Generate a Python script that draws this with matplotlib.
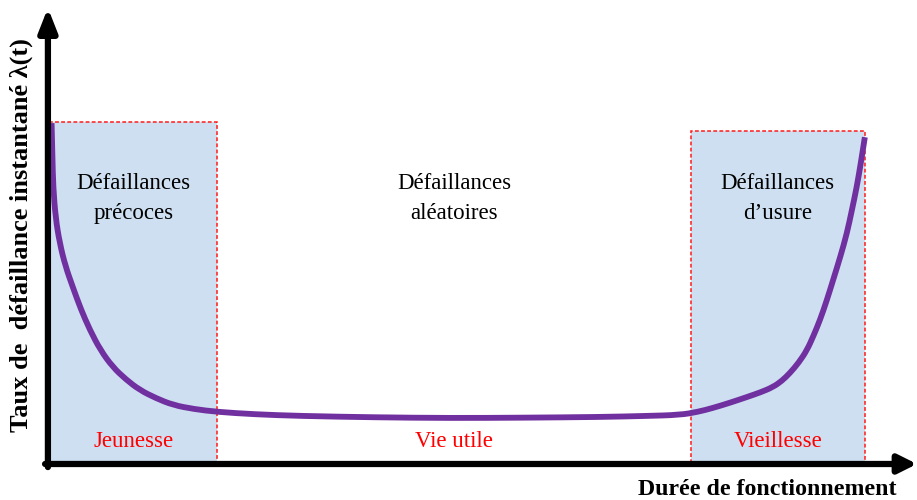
import matplotlib
matplotlib.use("Agg")
import matplotlib.pyplot as plt
from matplotlib.patches import Rectangle, PathPatch
from matplotlib.path import Path

# Bathtub curve (t: 0..100 = end of wear-out zone, rate: 0..100)
t_values = [0.2, 0.3, 0.4, 0.7, 1.2, 1.9, 2.8, 3.8, 4.9, 6.2, 7.7, 9.3, 11.0, 13.0,
            15.1, 17.7, 20.5, 25.0, 30.7, 40.0, 49.1, 58.0, 67.5, 73.0, 77.3, 79.5,
            81.3, 83.5, 85.5, 87.2, 88.7, 89.8, 90.8, 91.9, 92.9, 93.7, 94.5, 95.3,
            96.1, 97.0, 97.8, 98.4, 99.0, 99.5, 100.0]
rate_values = [99.7, 90.0, 81.0, 72.0, 64.7, 58.0, 51.9, 45.4, 39.4, 33.5, 28.6, 25.0, 21.9, 19.5,
               17.5, 16.3, 15.5, 14.8, 14.3, 13.9, 13.7, 13.8, 14.0, 14.3, 14.6, 15.5,
               16.6, 18.2, 19.8, 21.2, 22.7, 24.5, 26.8, 29.9, 33.5, 37.7, 42.3, 47.8,
               53.9, 60.8, 67.6, 74.2, 81.0, 88.0, 95.6]

# Zones: start, end, shaded height (None = not shaded), titles and phase labels
zone_starts = [0.0, 20.5, 78.65]
zone_ends = [20.5, 78.65, 100.0]
zone_tops = [100.0, None, 97.4]
zone_titles = ["Défaillances\nprécoces", "Défaillances\naléatoires", "Défaillances\nd\u2019usure"]
zone_phases = ["Jeunesse", "Vie utile", "Vieillesse"]

ylabel = "Taux de  défaillance instantané λ(t)"
xlabel = "Durée de fonctionnement"

serif = ["Liberation Serif", "DejaVu Serif"]


def smooth_path(xs, ys):
    # quadratic curves through the midpoints, the points act as control points
    verts = [(xs[0], ys[0])]
    codes = [Path.MOVETO]
    for i in range(1, len(xs) - 1):
        verts.append((xs[i], ys[i]))
        verts.append(((xs[i] + xs[i + 1]) / 2, (ys[i] + ys[i + 1]) / 2))
        codes += [Path.CURVE3, Path.CURVE3]
    verts.append((xs[-1], ys[-1]))
    codes.append(Path.LINETO)
    return Path(verts, codes)


fig = plt.figure(figsize=(9.17, 5.0), dpi=100)
ax = fig.add_axes([0, 0, 1, 1])
ax.set_xlim(-6.13, 106.4)
ax.set_ylim(-10.2, 135.6)
ax.axis("off")

# shaded zones
for x0, x1, top in zip(zone_starts, zone_ends, zone_tops):
    if top is None:
        continue
    ax.add_patch(Rectangle((x0, 0.5), x1 - x0, top - 0.5, facecolor="#cddff0",
                           edgecolor="#ff1a1a", linestyle=(0, (2.5, 1.5)),
                           linewidth=1.1, zorder=1))

# curve
ax.add_patch(PathPatch(smooth_path(t_values, rate_values), facecolor="none",
                       edgecolor="#7030a0", linewidth=4.2, capstyle="butt", zorder=3))

# axes arrows
ax.annotate("", xy=(106.4, 0.3), xytext=(-0.6, 0.3),
            arrowprops=dict(arrowstyle="-|>,head_length=1.1,head_width=0.55",
                            color="black", lw=4.5, shrinkA=0, shrinkB=0), zorder=4)
ax.annotate("", xy=(-0.25, 133.3), xytext=(-0.25, -0.6),
            arrowprops=dict(arrowstyle="-|>,head_length=1.4,head_width=0.55",
                            color="black", lw=4.5, shrinkA=0, shrinkB=0), zorder=4)

# zone texts
for x0, x1, title, phase in zip(zone_starts, zone_ends, zone_titles, zone_phases):
    xc = (x0 + x1) / 2
    ax.text(xc, 77.8, title, ha="center", va="center", fontsize=16.5,
            family=serif, linespacing=1.55, color="black", zorder=5)
    ax.text(xc, 6.8, phase, ha="center", va="center", fontsize=16.5,
            family=serif, color="#ff0000", zorder=5)

# axis labels
ax.text(-3.5, 67, ylabel, rotation=90, ha="center", va="center",
        fontsize=19, fontweight="bold", family=serif)
ax.text(103.9, -7.0, xlabel, ha="right", va="center",
        fontsize=17.2, fontweight="bold", family=serif)

fig.savefig("out.png", dpi=100)
